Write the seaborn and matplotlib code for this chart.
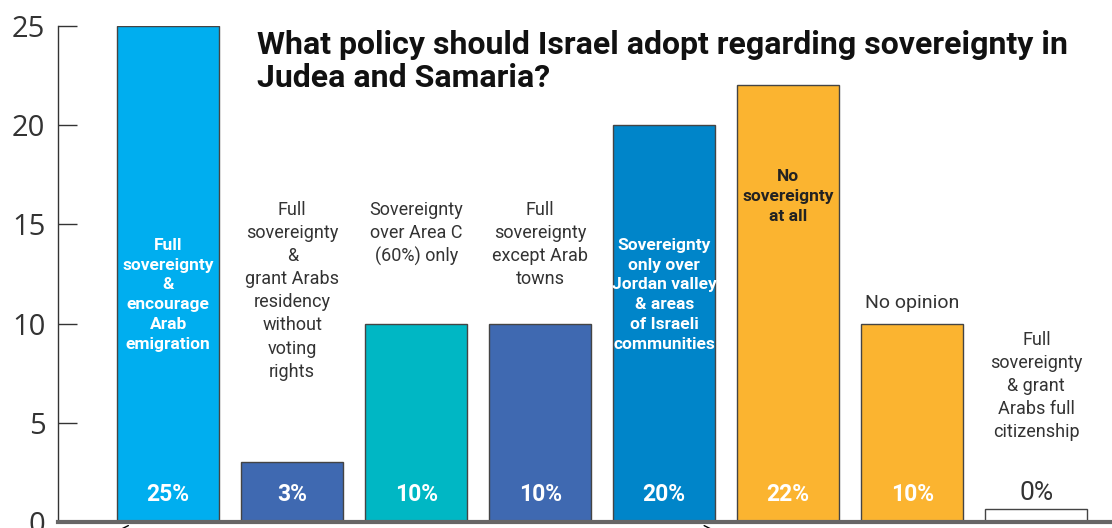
import matplotlib
matplotlib.use("Agg")
import matplotlib.pyplot as plt
import seaborn as sns
import pandas as pd

categories = [
    "Full sovereignty & encourage Arab emigration",
    "Full sovereignty & grant Arabs residency without voting rights",
    "Sovereignty over Area C (60%) only",
    "Full sovereignty except Arab towns",
    "Sovereignty only over Jordan valley & areas of Israeli communities",
    "No sovereignty at all",
    "No opinion",
    "Full sovereignty & grant Arabs full citizenship",
]
values = [25, 3, 10, 10, 20, 22, 10, 0]
bar_labels = [
    "Full\nsovereignty\n&\nencourage\nArab\nemigration",
    "Full\nsovereignty\n&\ngrant Arabs\nresidency\nwithout\nvoting\nrights",
    "Sovereignty\nover Area C\n(60%) only",
    "Full\nsovereignty\nexcept Arab\ntowns",
    "Sovereignty\nonly over\nJordan valley\n& areas\nof Israeli\ncommunities",
    "No\nsovereignty\nat all",
    "No opinion",
    "Full\nsovereignty\n& grant\nArabs full\ncitizenship",
]
colors = ["#00AEEF", "#3F69B1", "#00B7C4", "#3F69B1", "#0085C9", "#FBB430", "#FBB430", "#FFFFFF"]
title = "What policy should Israel adopt regarding sovereignty in\nJudea and Samaria?"

sns.set_theme(style="white")
plt.rcParams["font.family"] = ["Open Sans", "DejaVu Sans"]
narrow = ["Roboto", "DejaVu Sans"]

# minimum visible height for zero-valued bar (style only)
shown = [v if v > 0 else 0.65 for v in values]
df = pd.DataFrame({"cat": categories, "val": shown})

fig = plt.figure(figsize=(11.12, 5.28), dpi=100)
ax = fig.add_axes([0.052, 0.0114, 0.948, 0.9394])
sns.barplot(data=df, x="cat", y="val", hue="cat", palette=colors, legend=False,
            width=0.82, edgecolor="#444444", linewidth=1.0, saturation=1, ax=ax)

ax.set_xlim(-0.89, 7.61)
ax.set_ylim(0, 25)
ax.set_yticks([0, 5, 10, 15, 20, 25])
ax.tick_params(axis="y", direction="in", length=14, width=1.0, color="#333333",
               labelsize=21, labelcolor="#333333", pad=9, left=True)
ax.set_xticks([])
ax.set_xlabel("")
ax.set_ylabel("")
for s in ["top", "right"]:
    ax.spines[s].set_visible(False)
ax.spines["left"].set_color("#333333")
ax.spines["left"].set_linewidth(1.0)
ax.spines["bottom"].set_color("#666666")
ax.spines["bottom"].set_linewidth(3)

# inside labels
for i in [0, 4]:
    ax.text(i, 11.45, bar_labels[i], ha="center", va="center", color="white",
            fontsize=12.5, fontweight="bold", family=narrow, linespacing=1.4)
ax.text(5, 16.4, bar_labels[5], ha="center", va="center", color="#222222",
        fontsize=12.5, fontweight="bold", family=narrow, linespacing=1.4)
# above labels
for i in [1, 2, 3]:
    ax.text(i, 16.2, bar_labels[i], ha="center", va="top", color="#333333",
            fontsize=13, family=narrow, linespacing=1.37)
ax.text(6, 10.6, bar_labels[6], ha="center", va="bottom", color="#333333",
        fontsize=14, family=narrow, linespacing=1.37)
ax.text(7, 9.65, bar_labels[7], ha="center", va="top", color="#333333",
        fontsize=13, family=narrow, linespacing=1.37)

# percentage labels
for i, v in enumerate(values):
    if v > 0:
        ax.text(i, 1.4, f"{v}%", ha="center", va="center", color="white",
                fontsize=16.5, fontweight="bold", family=narrow)
    else:
        ax.text(i, 1.45, f"{v}%", ha="center", va="center", color="#333333",
                fontsize=19, family=narrow)

ax.text(0.715, 23.2, title, ha="left", va="center", fontsize=23, fontweight="bold",
        color="#111111", family=["Roboto", "DejaVu Sans"], linespacing=1.12)

ax.annotate("", xy=(-0.41, -0.35), xytext=(4.41, -0.35), xycoords="data",
            arrowprops=dict(arrowstyle="<->", color="black", lw=1), annotation_clip=False)

fig.savefig("out.png", dpi=100)
